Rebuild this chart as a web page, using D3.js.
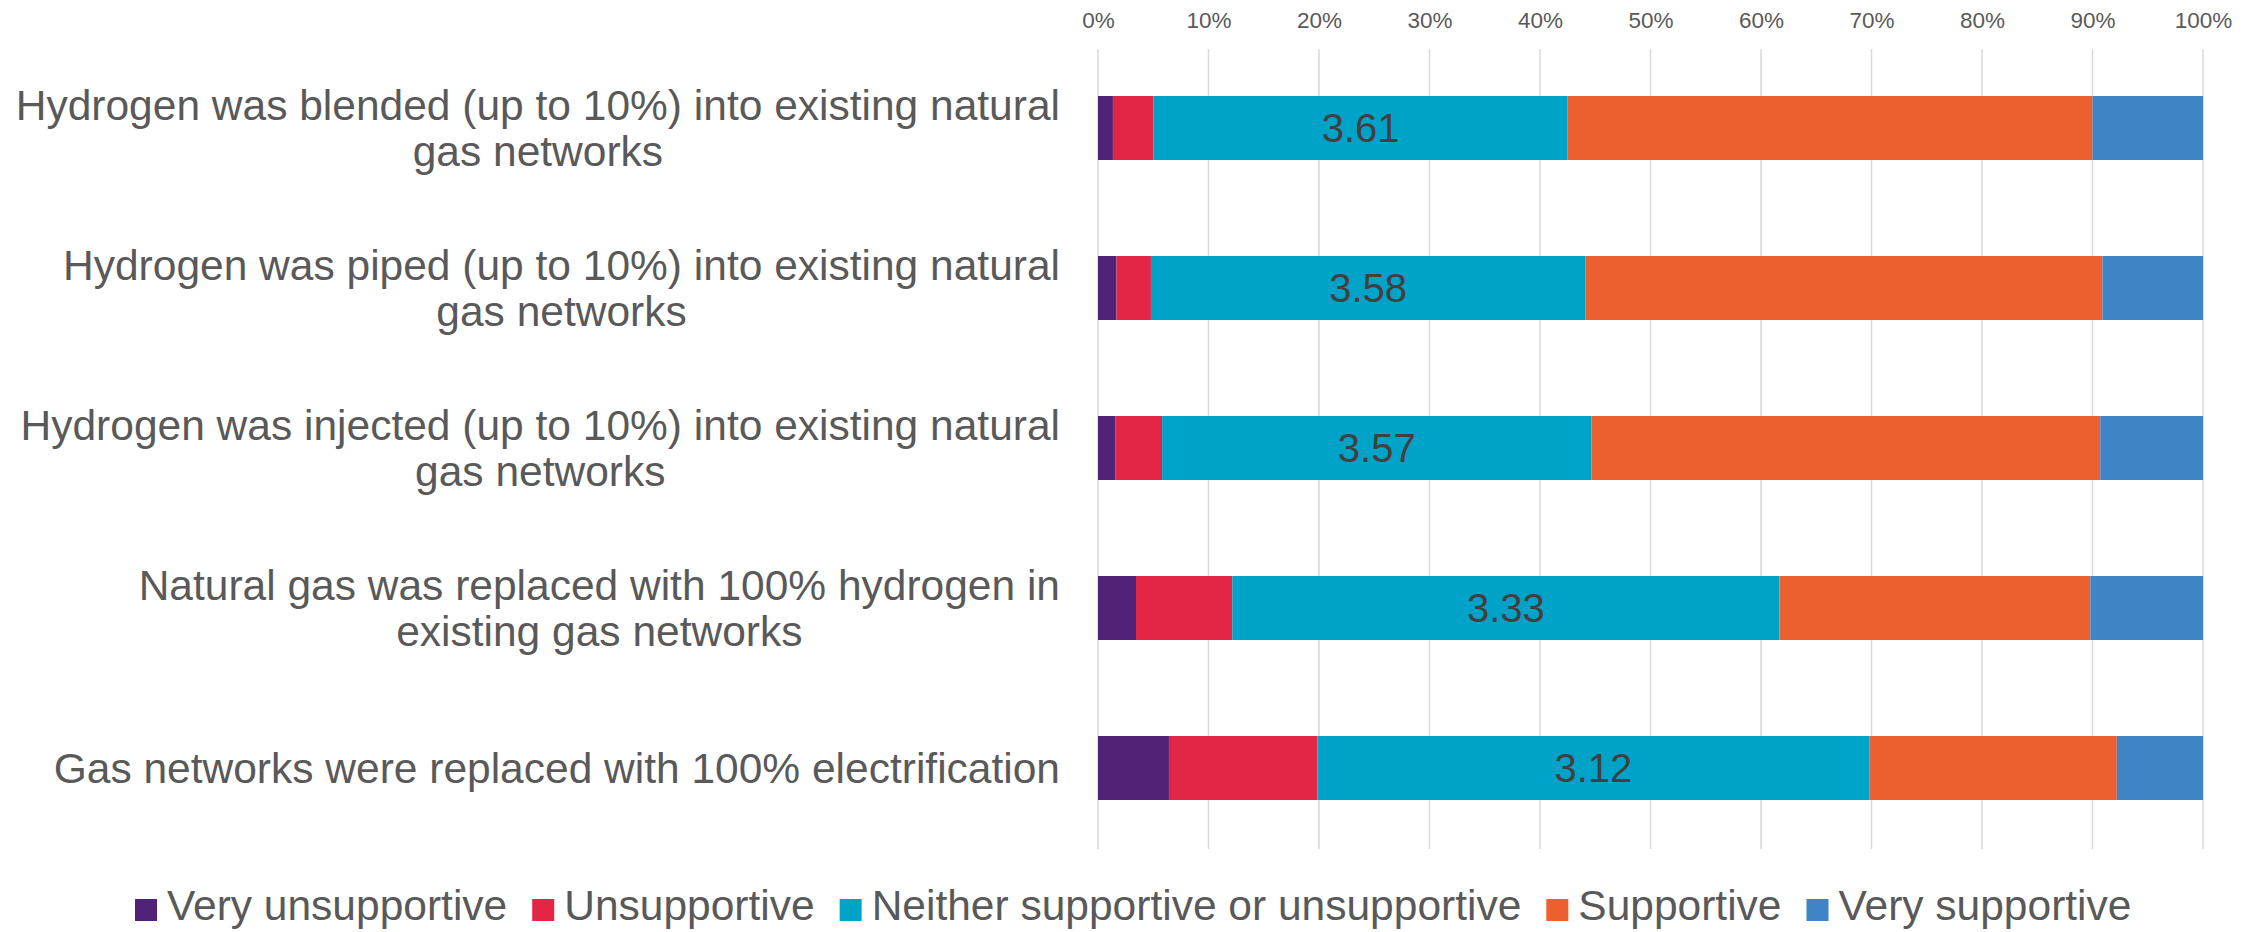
<!DOCTYPE html>
<html>
<head>
<meta charset="utf-8">
<script src="https://cdn.jsdelivr.net/npm/d3@7"></script>
<style>
  html, body { margin: 0; padding: 0; background: #ffffff; }
  svg { display: block; font-family: Arial, "Liberation Sans", sans-serif; }
</style>
</head>
<body>
<svg id="chart" width="2257" height="932"></svg>
<script>
// Survey statements (top to bottom)
const categories = [
  "Hydrogen was blended (up to 10%) into existing natural gas networks",
  "Hydrogen was piped (up to 10%) into existing natural gas networks",
  "Hydrogen was injected (up to 10%) into existing natural gas networks",
  "Natural gas was replaced with 100% hydrogen in existing gas networks",
  "Gas networks were replaced with 100% electrification"
];

// Share of respondents (%) per response level
const veryUnsupportive = [1.35, 1.67, 1.56, 3.44, 6.42];
const unsupportive     = [3.68, 3.12, 4.24, 8.71, 13.44];
const neither          = [37.47, 39.31, 38.85, 49.52, 49.94];
const supportive       = [47.50, 46.80, 46.05, 28.13, 22.40];
const verySupportive   = [10.00, 9.10, 9.30, 10.20, 7.80];

// Mean support score shown on each bar
const meanScores = ["3.61", "3.58", "3.57", "3.33", "3.12"];

const seriesNames = [
  "Very unsupportive",
  "Unsupportive",
  "Neither supportive or unsupportive",
  "Supportive",
  "Very supportive"
];
const seriesColors = ["#512378", "#e32645", "#00a3c8", "#eb602e", "#3f85c6"];

const tickValues = [0, 10, 20, 30, 40, 50, 60, 70, 80, 90, 100];

// Build rows for stacking
const rows = categories.map((c, i) => ({
  category: c,
  "Very unsupportive": veryUnsupportive[i],
  "Unsupportive": unsupportive[i],
  "Neither supportive or unsupportive": neither[i],
  "Supportive": supportive[i],
  "Very supportive": verySupportive[i],
  mean: meanScores[i]
}));

const svg = d3.select("#chart");
const textColor = "#595959";

const x = d3.scaleLinear().domain([0, 100]).range([1098, 2203]);
const y = d3.scaleBand().domain(categories).range([48, 848])
  .paddingInner(0.6).paddingOuter(0.3);
const color = d3.scaleOrdinal().domain(seriesNames).range(seriesColors);

// Vertical gridlines
svg.append("g")
  .selectAll("line")
  .data(tickValues)
  .join("line")
  .attr("x1", d => x(d)).attr("x2", d => x(d))
  .attr("y1", 49).attr("y2", 849)
  .attr("stroke", "#d9d9d9")
  .attr("stroke-width", 1.5);

// Percentage axis on top
const axis = svg.append("g")
  .attr("transform", "translate(0,28)")
  .call(d3.axisTop(x).tickValues(tickValues).tickFormat(d => d + "%").tickSize(0).tickPadding(0));
axis.select(".domain").remove();
axis.selectAll("text")
  .attr("font-size", "22.5px")
  .attr("font-family", "Arial, 'Liberation Sans', sans-serif")
  .attr("fill", textColor)
  .attr("dy", 0);

// Stacked bars
const stack = d3.stack().keys(seriesNames);
const stacked = stack(rows);

svg.append("g")
  .selectAll("g")
  .data(stacked)
  .join("g")
  .attr("fill", d => color(d.key))
  .selectAll("rect")
  .data(d => d)
  .join("rect")
  .attr("x", d => x(d[0]))
  .attr("y", d => y(d.data.category))
  .attr("width", d => x(d[1]) - x(d[0]))
  .attr("height", y.bandwidth());

// Mean score labels centred in the neutral segment
const neutral = stacked.find(s => s.key === "Neither supportive or unsupportive");
svg.append("g")
  .selectAll("text")
  .data(neutral)
  .join("text")
  .attr("x", d => (x(d[0]) + x(d[1])) / 2)
  .attr("y", d => y(d.data.category) + y.bandwidth() / 2)
  .attr("dy", "0.36em")
  .attr("text-anchor", "middle")
  .attr("font-size", "40px")
  .attr("fill", "#404040")
  .text(d => d.data.mean);

// Category labels, wrapped and centred line-by-line, block right-aligned
const labelRight = 1060;
const labelMaxWidth = 1060;
const lineGap = 46;
const labelG = svg.append("g");

categories.forEach(cat => {
  const t = labelG.append("text")
    .attr("font-size", "42.5px")
    .attr("fill", textColor)
    .attr("text-anchor", "middle");
  // greedy word wrap
  const words = cat.split(" ");
  const lines = [];
  let current = [];
  const probe = t.append("tspan");
  words.forEach(w => {
    const trial = current.concat([w]).join(" ");
    probe.text(trial);
    if (probe.node().getComputedTextLength() > labelMaxWidth && current.length) {
      lines.push(current.join(" "));
      current = [w];
    } else {
      current.push(w);
    }
  });
  lines.push(current.join(" "));
  // widest line
  let maxW = 0;
  lines.forEach(l => {
    probe.text(l);
    maxW = Math.max(maxW, probe.node().getComputedTextLength());
  });
  probe.remove();
  const cx = labelRight - maxW / 2;
  const cy = y(cat) + y.bandwidth() / 2;
  const top = cy - (lines.length - 1) * lineGap / 2;
  lines.forEach((l, i) => {
    t.append("tspan")
      .attr("x", cx)
      .attr("y", top + i * lineGap)
      .attr("dy", "0.35em")
      .text(l);
  });
});

// Legend
const legend = svg.append("g").attr("transform", "translate(135,0)");
let lx = 0;
seriesNames.forEach((name, i) => {
  const item = legend.append("g").attr("transform", `translate(${lx},0)`);
  item.append("rect")
    .attr("x", 0).attr("y", 899)
    .attr("width", 22).attr("height", 22)
    .attr("fill", seriesColors[i]);
  const txt = item.append("text")
    .attr("x", 32).attr("y", 920)
    .attr("font-size", "42.5px")
    .attr("fill", textColor)
    .text(name);
  lx += 32 + txt.node().getComputedTextLength() + 25;
});
</script>
</body>
</html>
